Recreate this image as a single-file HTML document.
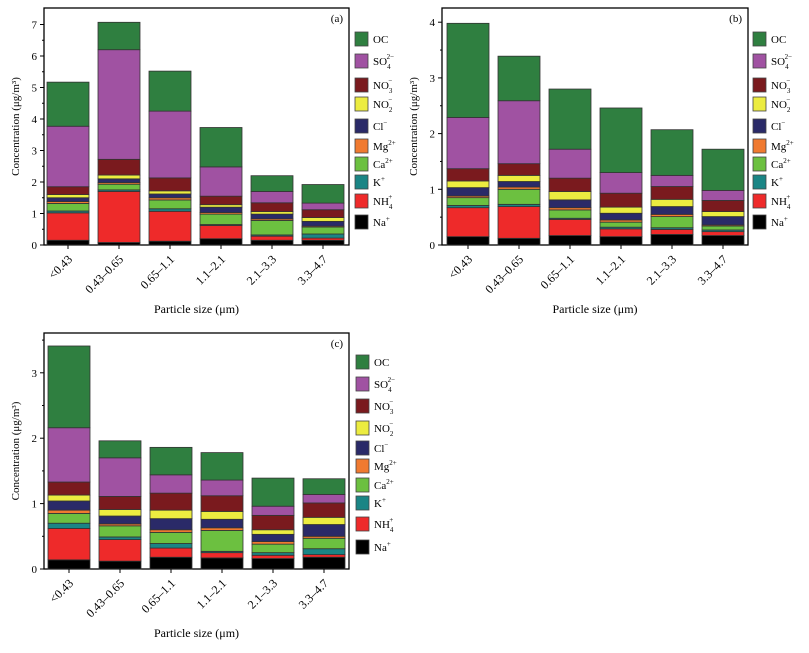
<!DOCTYPE html>
<html><head><meta charset="utf-8">
<style>
html,body{margin:0;padding:0;background:#fff;}
svg{display:block;font-family:"Liberation Serif",serif;}
</style></head>
<body>
<svg id="chart" width="809" height="653" viewBox="0 0 809 653" xmlns="http://www.w3.org/2000/svg"></svg>
<script>
// categories
const categories = ["<0.43","0.43–0.65","0.65–1.1","1.1–2.1","2.1–3.3","3.3–4.7"];
const species = ["Na","NH4","K","Ca","Mg","Cl","NO2","NO3","SO4","OC"];
// Panel (a) cumulative stack tops per species
const aNa  = [0.15,0.08,0.12,0.20,0.15,0.15];
const aNH4 = [1.02,1.70,1.07,0.62,0.28,0.22];
const aK   = [1.08,1.75,1.15,0.65,0.32,0.35];
const aCa  = [1.32,1.93,1.43,0.98,0.78,0.57];
const aMg  = [1.38,1.98,1.50,1.03,0.83,0.60];
const aCl  = [1.50,2.10,1.62,1.20,0.98,0.75];
const aNO2 = [1.60,2.22,1.72,1.28,1.06,0.87];
const aNO3 = [1.85,2.72,2.13,1.55,1.34,1.12];
const aSO4 = [3.77,6.20,4.25,2.48,1.70,1.33];
const aOC  = [5.17,7.07,5.52,3.73,2.20,1.92];
// Panel (b)
const bNa  = [0.15,0.12,0.17,0.15,0.19,0.17];
const bNH4 = [0.67,0.69,0.46,0.29,0.28,0.24];
const bK   = [0.71,0.73,0.48,0.32,0.31,0.27];
const bCa  = [0.85,1.00,0.63,0.41,0.51,0.34];
const bMg  = [0.88,1.04,0.67,0.45,0.55,0.36];
const bCl  = [1.03,1.14,0.81,0.57,0.69,0.51];
const bNO2 = [1.15,1.25,0.96,0.68,0.82,0.60];
const bNO3 = [1.37,1.46,1.20,0.93,1.05,0.80];
const bSO4 = [2.29,2.59,1.72,1.30,1.25,0.98];
const bOC  = [3.98,3.39,2.80,2.46,2.07,1.72];
// Panel (c)
const cNa  = [0.14,0.12,0.18,0.17,0.16,0.18];
const cNH4 = [0.62,0.45,0.32,0.25,0.21,0.22];
const cK   = [0.70,0.49,0.39,0.27,0.25,0.31];
const cCa  = [0.85,0.66,0.56,0.59,0.38,0.47];
const cMg  = [0.90,0.69,0.60,0.63,0.42,0.50];
const cCl  = [1.04,0.81,0.77,0.76,0.53,0.68];
const cNO2 = [1.13,0.91,0.90,0.88,0.60,0.79];
const cNO3 = [1.33,1.11,1.16,1.12,0.82,1.01];
const cSO4 = [2.16,1.70,1.44,1.36,0.96,1.14];
const cOC  = [3.41,1.96,1.86,1.78,1.39,1.38];
const aTicks = [0,1,2,3,4,5,6,7];
const bTicks = [0,1,2,3,4];
const cTicks = [0,1,2,3];

const colors = {Na:"#000000",NH4:"#ee2a2a",K:"#1a8585",Ca:"#6cc040",Mg:"#f07a30",Cl:"#2a2a68",NO2:"#ecec40",NO3:"#7a1a1e",SO4:"#a052a2",OC:"#2f7f40"};
const NS="http://www.w3.org/2000/svg";
const svg=document.getElementById('chart');
function mk(tag,attrs,parent){const e=document.createElementNS(NS,tag);for(const k in attrs)e.setAttribute(k,attrs[k]);(parent||svg).appendChild(e);return e;}

const legendItems=[["OC","OC",null,null],["SO4","SO","4","2−"],["NO3","NO","3","−"],["NO2","NO","2","−"],["Cl","Cl",null,"−"],["Mg","Mg",null,"2+"],["Ca","Ca",null,"2+"],["K","K",null,"+"],["NH4","NH","4","+"],["Na","Na",null,"+"]];

function panel(p){
  const g=mk('g',{});
  
  
  const y=v=>p.y0-v*p.unit;
  const x=i=>p.cx0+i*51;
  const fr=mk('rect',{x:p.x0,y:p.top,width:p.x1-p.x0,height:p.y0-p.top,fill:'none',stroke:'#000','stroke-width':1.3},g);
  
  
  categories.forEach((c,i)=>{
    let prev=0;
    species.forEach(s=>{
      const top=p.data[s][i];
      const r=mk('rect',{x:x(i)-21,y:y(top),width:42,height:Math.max(0,y(prev)-y(top)),fill:colors[s],stroke:'#333','stroke-width':0.8},g);
      
      
      prev=top;
    });
    mk('line',{x1:x(i),x2:x(i),y1:p.y0,y2:p.y0+4,stroke:'#000'},g);
    const t=mk('text',{x:x(i)+5,y:p.y0+15,'font-size':12,'text-anchor':'end',transform:`rotate(-45 ${x(i)+5} ${p.y0+15})`},g);
    t.textContent=c;
    
    
  });
  p.ticks.forEach(v=>{
    mk('line',{x1:p.x0-4,x2:p.x0,y1:y(v),y2:y(v),stroke:'#000'},g);
    if(v+0.5<=p.max) mk('line',{x1:p.x0-2,x2:p.x0,y1:y(v+0.5),y2:y(v+0.5),stroke:'#000'},g);
    const t=mk('text',{x:p.x0-7,y:y(v)+4,'font-size':11,'text-anchor':'end'},g);
    t.textContent=v;
    
    
  });
  const tg=mk('text',{x:p.x1-6,y:p.top+14,'font-size':11,'text-anchor':'end'},g);
  tg.textContent='('+p.id+')';
  
  
  const yt=mk('text',{x:0,y:0,'font-size':11,'text-anchor':'middle',transform:`translate(${p.x0-25} ${(p.top+p.y0)/2}) rotate(-90)`},g);
  yt.textContent='Concentration (μg/m³)';
  
  
  const xt=mk('text',{x:(p.x0+p.x1)/2,y:p.y0+68,'font-size':12,'text-anchor':'middle'},g);
  xt.textContent='Particle size (μm)';
  
  
  legendItems.forEach((it,k)=>{
    const cy=p.leg[k];
    const lg=mk('g',{},g);
    
    
    mk('rect',{x:p.lx,y:cy-7,width:13,height:14,fill:colors[it[0]],stroke:'#444','stroke-width':0.8},lg);
    const t=mk('text',{x:p.lx+18,y:cy+4,'font-size':11},lg);
    t.appendChild(document.createTextNode(it[1]));
    if(it[2]){const s=mk('tspan',{dy:4,'font-size':7},t);s.textContent=it[2];}
    if(it[3]){const s=mk('tspan',{dx:it[2]?-4:0,dy:it[2]?-10:-5,'font-size':7},t);s.textContent=it[3];}
  });
}
panel({id:'a',x0:44,x1:349,top:8,y0:245,unit:31.5,cx0:68,ticks:aTicks,max:7.4,lx:355,
  leg:[39,61,85,104,126,146,164,182,201,222],
  data:{Na:aNa,NH4:aNH4,K:aK,Ca:aCa,Mg:aMg,Cl:aCl,NO2:aNO2,NO3:aNO3,SO4:aSO4,OC:aOC}});
panel({id:'b',x0:442,x1:748,top:8,y0:245,unit:55.7,cx0:468,ticks:bTicks,max:4.2,lx:753,
  leg:[39,61,85,104,126,146,164,182,201,222],
  data:{Na:bNa,NH4:bNH4,K:bK,Ca:bCa,Mg:bMg,Cl:bCl,NO2:bNO2,NO3:bNO3,SO4:bSO4,OC:bOC}});
panel({id:'c',x0:44,x1:349,top:333,y0:569,unit:65.4,cx0:69,ticks:cTicks,max:3.55,lx:356,
  leg:[362,384,406,428,448,466,485,503,524,547],
  data:{Na:cNa,NH4:cNH4,K:cK,Ca:cCa,Mg:cMg,Cl:cCl,NO2:cNO2,NO3:cNO3,SO4:cSO4,OC:cOC}});
</script>
</body></html>
